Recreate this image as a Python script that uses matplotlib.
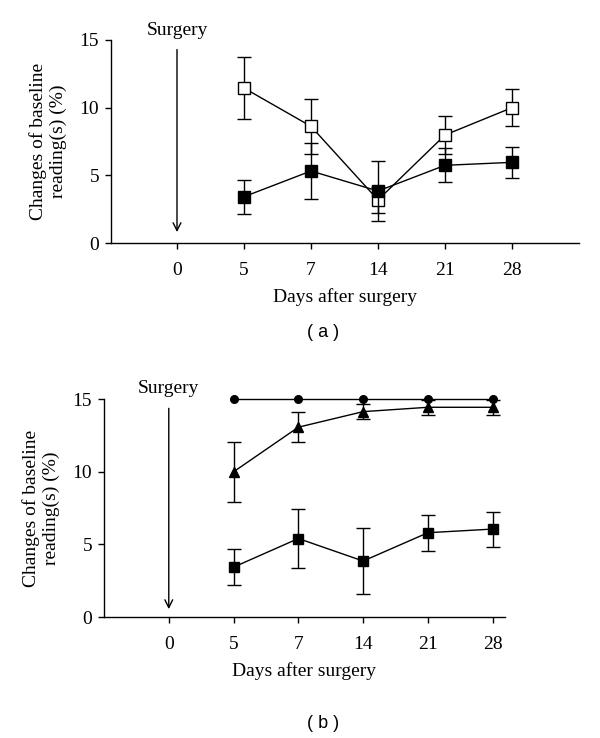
import matplotlib
matplotlib.use("Agg")
import matplotlib.pyplot as plt

# categories on the x axis
day_labels = ['0', '5', '7', '14', '21', '28']
data_pos = [1, 2, 3, 4, 5]

# panel (a)
a_open_mean = [11.45, 8.62, 3.18, 7.98, 10.0]
a_open_err = [2.3, 2.02, 0.95, 1.44, 1.38]
a_filled_mean = [3.42, 5.32, 3.84, 5.74, 5.96]
a_filled_err = [1.26, 2.05, 2.24, 1.26, 1.16]

# panel (b)
b_circle_mean = [15, 15, 15, 15, 15]
b_tri_mean = [9.99, 13.06, 14.13, 14.43, 14.43]
b_tri_err = [2.06, 1.05, 0.5, 0.5, 0.5]
b_sq_mean = [3.43, 5.4, 3.85, 5.8, 6.05]
b_sq_err = [1.23, 2.05, 2.27, 1.25, 1.2]

y_ticks = [0, 5, 10, 15]

plt.rcParams['font.family'] = ['Liberation Serif', 'DejaVu Serif']
W, H = 600, 738
fig = plt.figure(figsize=(W / 100, H / 100), dpi=100)


def px_axes(left, right, bottom, top):
    return fig.add_axes([left / W, 1 - bottom / H, (right - left) / W, (bottom - top) / H])


def style_axes(ax, xlim):
    ax.set_xlim(*xlim)
    ax.set_ylim(0, 15)
    for s in ('top', 'right'):
        ax.spines[s].set_visible(False)
    for s in ('left', 'bottom'):
        ax.spines[s].set_linewidth(1.0)
    ax.set_xticks(range(len(day_labels)))
    ax.set_xticklabels(day_labels)
    ax.set_yticks(y_ticks)
    ax.tick_params(direction='out', length=4.5, width=1.0, labelsize=14, pad=4)
    ax.tick_params(axis='x', pad=9)
    ax.set_ylabel('Changes of baseline\nreading(s) (%)', fontsize=14, linespacing=1.2, labelpad=9)
    ax.set_xlabel('Days after surgery', fontsize=14, labelpad=7)


eb = dict(color='black', lw=1.0, elinewidth=1.0, capsize=5, capthick=1.0)

# ---- (a)
ax1 = px_axes(111, 579, 243, 40)
style_axes(ax1, (-0.985, 6.0))
ax1.errorbar(data_pos, a_open_mean, yerr=a_open_err, marker='s', ms=8,
             mfc='white', mec='black', mew=1.0, zorder=3, **eb)
ax1.errorbar(data_pos, a_filled_mean, yerr=a_filled_err, marker='s', ms=8,
             mfc='black', mec='black', zorder=4, **eb)
ax1.annotate('', xy=(0, 0.6), xytext=(0, 14.5),
             arrowprops=dict(arrowstyle='->', lw=1.0, color='black', mutation_scale=14),
             annotation_clip=False)
ax1.text(0, 15.7, 'Surgery', ha='center', va='center', fontsize=14, clip_on=False)
fig.text(323 / W, 1 - 333 / H, '( a )', ha='center', va='center', fontsize=13,
         family='Liberation Sans')

# ---- (b)
ax2 = px_axes(104, 505, 617, 399)
style_axes(ax2, (-1.0, 5.19))
ax2.errorbar(data_pos, b_circle_mean, marker='o', ms=5.5, mfc='black', mec='black',
             zorder=4, clip_on=False, **eb)
ax2.errorbar(data_pos, b_tri_mean, yerr=b_tri_err, marker='^', ms=6.5,
             mfc='black', mec='black', zorder=3, **eb)
ax2.errorbar(data_pos, b_sq_mean, yerr=b_sq_err, marker='s', ms=7.5,
             mfc='black', mec='black', zorder=3, **eb)
ax2.annotate('', xy=(0, 0.35), xytext=(0, 14.55),
             arrowprops=dict(arrowstyle='->', lw=1.0, color='black', mutation_scale=14),
             annotation_clip=False)
ax2.text(0, 15.7, 'Surgery', ha='center', va='center', fontsize=14, clip_on=False)
fig.text(323 / W, 1 - 723 / H, '( b )', ha='center', va='center', fontsize=13,
         family='Liberation Sans')

fig.savefig('out.png', dpi=100, facecolor='white')
